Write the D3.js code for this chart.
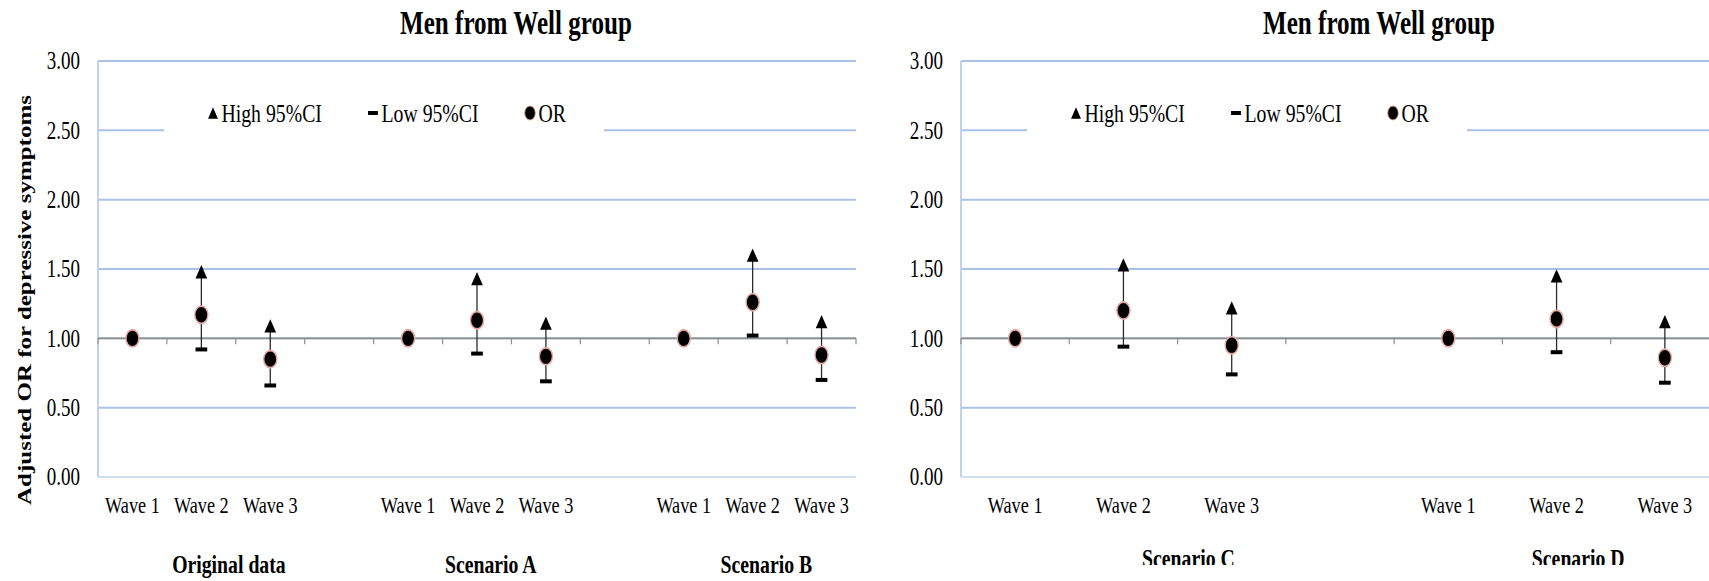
<!DOCTYPE html>
<html><head><meta charset="utf-8">
<script src="https://cdn.jsdelivr.net/npm/d3@7"></script>
<style>
html,body{margin:0;padding:0;background:#fff;overflow:hidden}
svg{display:block}
</style></head><body>
<svg id="chart" width="1709" height="581"></svg>
<script>
// ---- data ----
const waves = ["Wave 1", "Wave 2", "Wave 3"];
const yTicks = [0, 0.5, 1, 1.5, 2, 2.5, 3];
const titleText = "Men from Well group";
const yAxisTitle = "Adjusted OR for depressive symptoms";
const legendLabels = ["High 95%CI", "Low 95%CI", "OR"];

const leftGroups = ["Original data", "Scenario A", "Scenario B"];
const leftOR   = [1.00, 1.17, 0.85, 1.00, 1.13, 0.87, 1.00, 1.26, 0.88];
const leftHigh = [null, 1.48, 1.09, null, 1.43, 1.11, null, 1.60, 1.12];
const leftLow  = [null, 0.92, 0.66, null, 0.89, 0.69, null, 1.02, 0.70];

const rightGroups = ["Scenario C", "Scenario D"];
const rightOR   = [1.00, 1.20, 0.95, 1.00, 1.14, 0.86];
const rightHigh = [null, 1.53, 1.22, null, 1.45, 1.12];
const rightLow  = [null, 0.94, 0.74, null, 0.90, 0.68];

// ---- layout ----
const K = 0.76;                 // horizontal compression of the whole figure
const X = px => px / K;         // screen px -> inner units
const gridColor = "#abc0e8";
const axisGray = "#8f8f8f";
const FONT = "'Liberation Serif', 'Times New Roman', 'DejaVu Serif', serif";

const svg = d3.select("#chart");
const root = svg.append("g").attr("transform", `scale(${K},1)`);

const y = d3.scaleLinear().domain([0, 3]).range([477, 61]);

const panels = [
  { axisX: 98, width: 758, groups: leftGroups, or: leftOR, high: leftHigh, low: leftLow,
    labelAt: [1.9, 5.7, 9.7], labelY: 573, yTitle: true, clipBottom: null },
  { axisX: 961, width: 758, groups: rightGroups, or: rightOR, high: rightHigh, low: rightLow,
    labelAt: [2.1, 5.7], labelY: 567, yTitle: false, clipBottom: 565 }
];

const defs = svg.append("defs");

// marker shapes (inner units)
const triW = 15.4, triH = 13.3;
const triPath = (w, h) => `M0,${-h/2}L${w/2},${h/2}L${-w/2},${h/2}Z`;

function txt(sel, size, bold) {
  return sel.attr("font-family", FONT).attr("font-size", size)
    .attr("font-weight", bold ? "bold" : "normal").attr("fill", "#000");
}

panels.forEach((p, pi) => {
  let g = root.append("g");
  if (p.clipBottom) {
    const id = "clip" + pi;
    defs.append("clipPath").attr("id", id)
      .append("rect").attr("x", 0).attr("y", 0).attr("width", 1709).attr("height", p.clipBottom);
    g = svg.append("g").attr("clip-path", `url(#${id})`)
      .append("g").attr("transform", `scale(${K},1)`);
  }

  const ax = X(p.axisX), w = X(p.width);

  // category slots: three waves per group, an empty slot between groups
  const slots = [];
  p.groups.forEach((grp, gi) => {
    if (gi > 0) slots.push({ key: "gap" + gi, label: "" });
    waves.forEach(wv => slots.push({ key: grp + "|" + wv, label: wv }));
  });
  const x = d3.scaleBand().domain(slots.map(s => s.key)).range([ax, ax + w]).padding(0);
  const slotPos = d3.scaleLinear().domain([0, slots.length]).range([ax, ax + w]);
  const cx = i => x(p.groups[Math.floor(i / 3)] + "|" + waves[i % 3]) + x.bandwidth() / 2;

  // gridlines
  g.append("g").selectAll("line").data(yTicks.filter(t => t > 0)).join("line")
    .attr("x1", ax).attr("x2", ax + w)
    .attr("y1", d => y(d)).attr("y2", d => y(d))
    .attr("stroke", gridColor).attr("stroke-width", 2);
  g.append("line").attr("x1", ax).attr("x2", ax + w).attr("y1", y(0)).attr("y2", y(0))
    .attr("stroke", "#d3def3").attr("stroke-width", 2);
  g.append("line").attr("x1", ax).attr("x2", ax).attr("y1", y(3)).attr("y2", y(0))
    .attr("stroke", "#bccdee").attr("stroke-width", 2.4);

  // y tick labels
  txt(g.append("g").selectAll("text").data(yTicks).join("text"), 25, false)
    .attr("x", ax - X(18)).attr("y", d => y(d)).attr("dy", "0.34em")
    .attr("text-anchor", "end")
    .text(d => d3.format(".2f")(d));

  // category axis crossing at 1.00
  const ya = y(1);
  g.append("line").attr("x1", ax).attr("x2", ax + w).attr("y1", ya).attr("y2", ya)
    .attr("stroke", axisGray).attr("stroke-width", 1.6);
  g.append("g").selectAll("line").data(d3.range(slots.length + 1)).join("line")
    .attr("x1", d => slotPos(d)).attr("x2", d => slotPos(d))
    .attr("y1", ya).attr("y2", ya + 6)
    .attr("stroke", axisGray).attr("stroke-width", 1.6);

  // wave labels
  txt(g.append("g").selectAll("text").data(slots.filter(s => s.label)).join("text"), 24, false)
    .attr("x", s => x(s.key) + x.bandwidth() / 2).attr("y", 513)
    .attr("text-anchor", "middle")
    .text(s => s.label);

  // group labels
  txt(g.append("g").selectAll("text").data(p.groups).join("text"), 26, true)
    .attr("x", (d, i) => slotPos(p.labelAt[i])).attr("y", p.labelY)
    .attr("text-anchor", "middle")
    .text(d => d);

  // title
  txt(g.append("text"), 33, true).attr("x", ax + X(418)).attr("y", 34)
    .attr("text-anchor", "middle")
    .text(titleText);

  // legend
  const leg = g.append("g");
  leg.append("rect").attr("x", ax + X(66)).attr("y", 96).attr("width", X(440)).attr("height", 38)
    .attr("fill", "#fff");
  const ly = 113;
  leg.append("path").attr("d", triPath(13, 11.5))
    .attr("transform", `translate(${ax + X(115)},${ly})`).attr("fill", "#000");
  leg.append("rect").attr("x", ax + X(275) - 6.5).attr("y", ly - 2).attr("width", 13).attr("height", 4)
    .attr("fill", "#000");
  leg.append("ellipse").attr("cx", ax + X(432)).attr("cy", ly).attr("rx", 7).attr("ry", 7)
    .attr("fill", "#000").attr("stroke", "#e3a19c").attr("stroke-width", 1);
  const lx = [123.5, 283.5, 440.5];
  txt(leg.selectAll("text.lg").data(legendLabels).join("text").attr("class", "lg"), 26, false)
    .attr("x", (d, i) => ax + X(lx[i])).attr("y", ly).attr("dy", "0.35em")
    .text(d => d);

  // error bars (high-low lines)
  const idx = d3.range(p.or.length);
  const ci = idx.filter(i => p.high[i] != null && p.low[i] != null);
  g.append("g").selectAll("line").data(ci).join("line")
    .attr("x1", cx).attr("x2", cx)
    .attr("y1", i => y(p.high[i])).attr("y2", i => y(p.low[i]))
    .attr("stroke", "#2a2a2a").attr("stroke-width", 1.7);

  // high markers
  g.append("g").selectAll("path").data(ci).join("path")
    .attr("d", triPath(triW, triH))
    .attr("transform", i => `translate(${cx(i)},${y(p.high[i])})`)
    .attr("fill", "#000");

  // low markers
  g.append("g").selectAll("rect").data(ci).join("rect")
    .attr("x", i => cx(i) - 7.7).attr("y", i => y(p.low[i]) - 2)
    .attr("width", 15.4).attr("height", 4).attr("fill", "#000");

  // odds ratios
  g.append("g").selectAll("circle").data(idx).join("circle")
    .attr("cx", cx).attr("cy", i => y(p.or[i])).attr("r", 8.6)
    .attr("fill", "#000").attr("stroke", "#e6a8a2").attr("stroke-width", 1.8);

  // y-axis title
  if (p.yTitle) {
    txt(g.append("text"), 25, true)
      .attr("transform", `translate(${X(24)},300) rotate(-90)`)
      .attr("text-anchor", "middle").attr("dy", "0.35em")
      .text(yAxisTitle);
  }
});
</script>
</body></html>
